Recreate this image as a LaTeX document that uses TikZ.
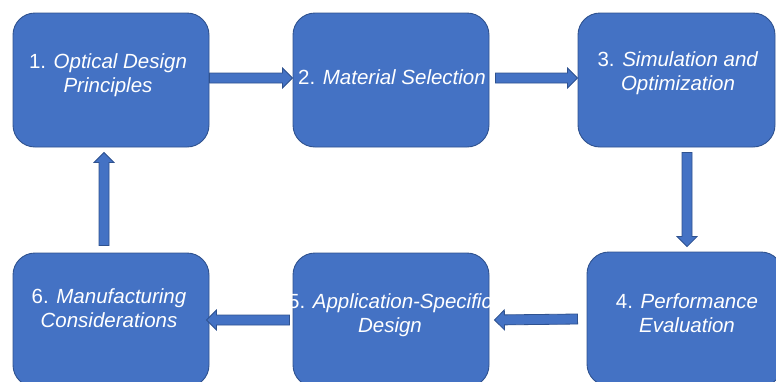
\documentclass[tikz,border=0pt]{standalone}
\usepackage{fontspec}
\setmainfont{Liberation Sans}
\usetikzlibrary{calc}

\definecolor{boxfill}{HTML}{4472C4}
\definecolor{boxline}{HTML}{2F528F}

% block arrow from #1 to #2: shaft 10pt wide, head 20pt wide and 10pt long
\newcommand{\blockarrow}[2]{%
  \draw[flowarrow]
    ($(#1)!5pt!90:(#2)$) --
    ($(#2)!10pt!(#1)!5pt!-90:(#1)$) --
    ($(#2)!10pt!(#1)!10pt!-90:(#1)$) --
    (#2) --
    ($(#2)!10pt!(#1)!10pt!90:(#1)$) --
    ($(#2)!10pt!(#1)!5pt!90:(#1)$) --
    ($(#1)!5pt!-90:(#2)$) -- cycle;}

\begin{document}
\begin{tikzpicture}[x=1pt,y=-1pt,
  stepbox/.style={draw=boxline, fill=boxfill, line width=0.9pt,
    rounded corners=22pt, minimum width=196pt, minimum height=134pt,
    inner sep=0pt},
  steptext/.style={text=white, align=center, inner sep=0pt,
    font=\fontsize{20.5}{24}\selectfont},
  flowarrow/.style={draw=boxline, fill=boxfill, line width=0.8pt,
    line join=miter}]
\useasboundingbox (0,0) rectangle (776,381);
\clip (0,0) rectangle (776,381);

% the six stages
\node[stepbox] (n1) at (111,80) {};
\node[stepbox] (n2) at (391,80) {};
\node[stepbox, minimum width=197pt] (n3) at (676.5,80) {};
\node[stepbox] (n4) at (685,319) {};
\node[stepbox] (n5) at (391,320) {};
\node[stepbox] (n6) at (111,320) {};

\node[steptext] (t1) at ($(n1)+(-3,-5)$) {1. \textit{Optical Design}\\\textit{Principles}};
\node[steptext] (t2) at ($(n2)+(1,-3)$) {2. \textit{Material Selection}};
\node[steptext] (t3) at ($(n3)+(1.5,-6.5)$) {3. \textit{Simulation and}\\\textit{Optimization}};
\node[steptext] (t4) at ($(n4)+(2,-5.5)$) {4. \textit{Performance}\\\textit{Evaluation}};
\node[steptext] (t5) at ($(n5)+(-1,-5)$) {5. \textit{Application-Specific}\\\textit{Design}};
\node[steptext] (t6) at ($(n6)+(-2,-11.5)$) {6. \textit{Manufacturing}\\\textit{Considerations}};

% connectors around the cycle
\blockarrow{$(n1.east)+(0,-2)$}{$(n2.west)+(0,-2)$}
\blockarrow{$(n2.east)+(6,-2)$}{$(n3.west)+(0,-2)$}
\blockarrow{$(n3.south -| n4.north)+(2,5)$}{$(n4.north)+(2,-5)$}
\blockarrow{$(n4.west)+(-9,0)$}{$(n5.east)+(5,0)$}
\blockarrow{$(n5.west)+(-3,0)$}{$(n6.east)+(-3,0)$}
\blockarrow{$(n6.north)+(-7,-7)$}{$(n1.south)+(-7,5)$}
\end{tikzpicture}
\end{document}
